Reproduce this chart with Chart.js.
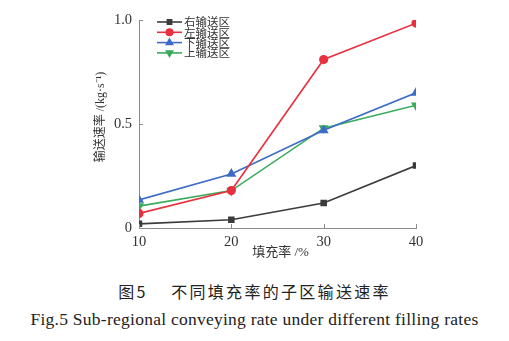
<!DOCTYPE html>
<html><head><meta charset="utf-8">
<script src="https://cdn.jsdelivr.net/npm/chart.js@4/dist/chart.umd.min.js"></script>
<style>
html,body{margin:0;padding:0;background:#fff;width:509px;height:341px;overflow:hidden;position:relative}
#wrap{position:absolute;left:0;top:0;width:509px;height:270px}
.cap{position:absolute;left:0;width:509px;text-align:center;color:#222;white-space:nowrap}
#cap1{top:279px;font-family:"Noto Sans CJK SC";font-size:16px;letter-spacing:2.3px}
#cap2{top:309px;font-family:"Liberation Serif";font-size:17.5px;letter-spacing:0.25px}
</style></head><body>
<div id="wrap"><canvas id="c" width="509" height="270"></canvas></div>
<div class="cap" id="cap1">图5&nbsp;&nbsp;&nbsp;&nbsp;不同填充率的子区输送速率</div>
<div class="cap" id="cap2">Fig.5 Sub-regional conveying rate under different filling rates</div>
<script>
const fillRates = [10, 20, 30, 40];
const seriesNames = ['右输送区', '左输送区', '下输送区', '上输送区'];
const rightZone = [0.02, 0.04, 0.12, 0.30];
const leftZone  = [0.07, 0.18, 0.81, 0.985];
const lowerZone = [0.135, 0.26, 0.47, 0.65];
const upperZone = [0.105, 0.18, 0.48, 0.59];
const yTicks = [0, 0.5, 1.0];
const yTickLabels = ['0', '0.5', '1.0'];
const xTitle = '填充率 /%';
const yTitle = '输送速率 /(kg·s⁻¹)';

const colors = ['#3b3b3b', '#e8303f', '#3d6cc6', '#3aab5c'];
const styles = ['rect', 'circle', 'triangle', 'triangle'];
const rotations = [0, 0, 0, 180];
const radii = [3.5, 3.8, 4.2, 4.2];
const values = [rightZone, leftZone, lowerZone, upperZone];

const datasets = values.map((v, i) => ({
  label: seriesNames[i],
  data: v.map((y, j) => ({x: fillRates[j], y})),
  borderColor: colors[i], backgroundColor: colors[i],
  borderWidth: 1.6, pointStyle: styles[i], pointRotation: rotations[i],
  pointRadius: radii[i], pointHoverRadius: radii[i], tension: 0
}));

const axisColor = '#8a8a8a';
const mixFont = '"Liberation Serif", "Noto Sans CJK SC"';
const extras = {
  id: 'extras',
  afterDraw(chart) {
    const ctx = chart.ctx, xs = chart.scales.x, ys = chart.scales.y;
    ctx.save();
    ctx.strokeStyle = axisColor; ctx.lineWidth = 1;
    fillRates.forEach(v => {
      const px = Math.round(xs.getPixelForValue(v)) + 0.5;
      ctx.beginPath(); ctx.moveTo(px, ys.bottom); ctx.lineTo(px, ys.bottom - 4); ctx.stroke();
    });
    yTicks.forEach(v => {
      const py = Math.round(ys.getPixelForValue(v)) + 0.5;
      ctx.beginPath(); ctx.moveTo(xs.left, py); ctx.lineTo(xs.left + 4, py); ctx.stroke();
    });
    ctx.fillStyle = '#333';
    ctx.font = '13px ' + mixFont;
    ctx.textAlign = 'center'; ctx.textBaseline = 'middle';
    ctx.fillText(xTitle, (xs.left + xs.right) / 2 + 3, 253);
    ctx.translate(101, (ys.top + ys.bottom) / 2 - 7);
    ctx.rotate(-Math.PI / 2);
    ctx.font = '12px ' + mixFont;
    ctx.fillText(yTitle, 0, 0);
    ctx.restore();
    ctx.save();
    const lx = 157, ly = 22, dy = 10.3;
    chart.data.datasets.forEach((d, i) => {
      const y = ly + i * dy;
      ctx.strokeStyle = d.borderColor; ctx.lineWidth = 1.6;
      ctx.beginPath(); ctx.moveTo(lx, y); ctx.lineTo(lx + 25, y); ctx.stroke();
      Chart.helpers.drawPoint(ctx, {pointStyle: d.pointStyle, rotation: d.pointRotation, radius: d.pointRadius * 0.85, borderWidth: 1}, lx + 12.5, y);
      ctx.fillStyle = d.borderColor;
      ctx.fill();
      ctx.fillStyle = '#333';
      ctx.font = '11.5px "Noto Sans CJK SC"';
      ctx.textAlign = 'left'; ctx.textBaseline = 'middle';
      ctx.fillText(d.label, lx + 27, y);
    });
    ctx.restore();
  }
};

new Chart(document.getElementById('c'), {
  type: 'line',
  data: {datasets},
  options: {
    responsive: false, animation: false, devicePixelRatio: 1,
    layout: {padding: {top: 20, right: 93, left: 0, bottom: 0}},
    plugins: {legend: {display: false}, tooltip: {enabled: false}},
    scales: {
      x: {
        type: 'linear', min: 10, max: 40,
        afterFit(s) { s.height = 270 - 228; },
        afterBuildTicks(s) { s.ticks = fillRates.map(v => ({value: v})); },
        grid: {display: false, drawTicks: false},
        border: {display: true, color: axisColor, width: 1},
        ticks: {padding: 5, color: '#333', font: {family: 'Liberation Serif', size: 14.5}}
      },
      y: {
        type: 'linear', min: 0, max: 1,
        afterFit(s) { s.width = 139; },
        afterBuildTicks(s) { s.ticks = yTicks.map(v => ({value: v})); },
        grid: {display: false, drawTicks: false},
        border: {display: true, color: axisColor, width: 1},
        ticks: {padding: 7, color: '#333', font: {family: 'Liberation Serif', size: 14.5},
          callback: (v) => yTickLabels[yTicks.indexOf(v)] ?? ''}
      }
    }
  },
  plugins: [extras]
});
</script>
</body></html>
